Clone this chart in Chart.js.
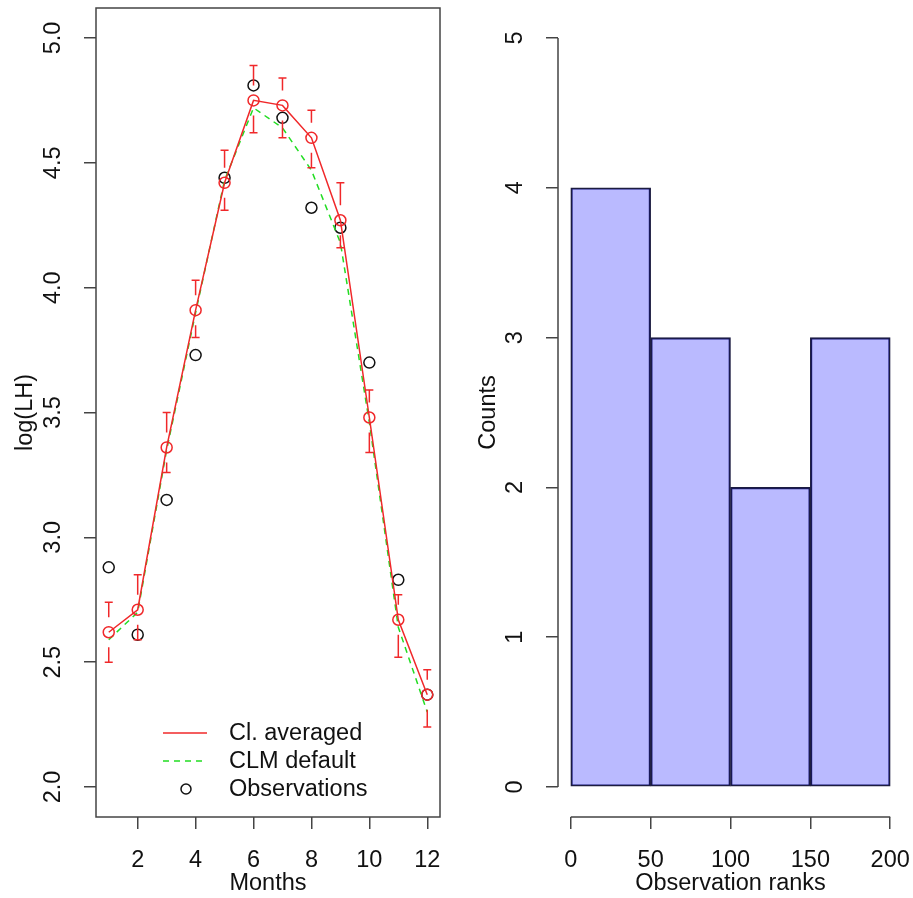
<!DOCTYPE html>
<html>
<head>
<meta charset="utf-8">
<script src="https://cdn.jsdelivr.net/npm/chart.js@4.4.0/dist/chart.umd.min.js"></script>
<style>
    body { margin: 0; background: #fff; }
    #wrap { position: relative; width: 913px; height: 898px; }
    canvas { position: absolute; top: 0; }
</style>
</head>
<body>
<div id="wrap">
    <canvas id="lhChart" width="460" height="898" style="left:0"></canvas>
    <canvas id="rankChart" width="453" height="898" style="left:460px"></canvas>
</div>
<script>
// left panel: monthly log(LH)
const months = [1, 2, 3, 4, 5, 6, 7, 8, 9, 10, 11, 12];
const clAveraged = [2.62, 2.71, 3.36, 3.91, 4.42, 4.75, 4.73, 4.60, 4.27, 3.48, 2.67, 2.37];
const ciUpper = [2.74, 2.85, 3.50, 4.03, 4.55, 4.89, 4.84, 4.71, 4.42, 3.59, 2.77, 2.47];
const ciLower = [2.50, 2.59, 3.26, 3.80, 4.31, 4.62, 4.60, 4.48, 4.16, 3.34, 2.52, 2.24];
const clmDefault = [2.59, 2.70, 3.35, 3.90, 4.43, 4.72, 4.64, 4.47, 4.18, 3.46, 2.64, 2.30];
const observations = [2.88, 2.61, 3.15, 3.73, 4.44, 4.81, 4.68, 4.32, 4.24, 3.70, 2.83, 2.37];
const monthTicks = [2, 4, 6, 8, 10, 12];
const lhTicks = [2.0, 2.5, 3.0, 3.5, 4.0, 4.5, 5.0];

// right panel: rank histogram
const rankEdges = [0, 50, 100, 150, 200];
const rankCounts = [4, 3, 2, 3];
const rankTicks = [0, 50, 100, 150, 200];
const countTicks = [0, 1, 2, 3, 4, 5];

const FONT = '"Liberation Sans", Arial, sans-serif';
const FSIZE = 23.5;
Chart.defaults.font.family = FONT;
Chart.defaults.font.size = FSIZE;
Chart.defaults.color = '#111';

const RED = '#f0282a';
const GREEN = '#22dd22';
const AXIS = '#444';

function xy(xs, ys) {
    return xs.map((x, i) => ({ x: x, y: ys[i] }));
}

// fixed axis size, no extra room for overflowing labels
function fixHeight(h) {
    return s => { s.height = h; s.paddingLeft = 0; s.paddingRight = 0; };
}
function fixWidth(w) {
    return s => { s.width = w; s.paddingTop = 0; s.paddingBottom = 0; };
}

// R style rotated y tick labels
const rotatedYLabels = {
    id: 'rotatedYLabels',
    afterDraw(chart, args, opts) {
        const s = chart.scales.y, ctx = chart.ctx;
        ctx.save();
        ctx.font = FSIZE + 'px ' + FONT;
        ctx.fillStyle = '#111';
        ctx.textAlign = 'center';
        ctx.textBaseline = 'middle';
        s.ticks.forEach(t => {
            ctx.save();
            ctx.translate(opts.x, s.getPixelForValue(t.value));
            ctx.rotate(-Math.PI / 2);
            ctx.fillText(t.value.toFixed(opts.decimals), 0, 0);
            ctx.restore();
        });
        ctx.restore();
    }
};

const plotBox = {
    id: 'plotBox',
    afterDraw(chart) {
        const a = chart.chartArea, ctx = chart.ctx;
        ctx.save();
        ctx.strokeStyle = AXIS;
        ctx.lineWidth = 1.5;
        ctx.strokeRect(a.left, a.top, a.right - a.left, a.bottom - a.top);
        ctx.restore();
    }
};

// plotCI style bars, with a gap around the point
const errorBars = {
    id: 'errorBars',
    afterDatasetsDraw(chart) {
        const xs = chart.scales.x, ys = chart.scales.y, ctx = chart.ctx;
        const gap = 15, cap = 4;
        ctx.save();
        ctx.strokeStyle = RED;
        ctx.lineWidth = 1.5;
        months.forEach((m, i) => {
            const x = xs.getPixelForValue(m);
            const yc = ys.getPixelForValue(clAveraged[i]);
            const yu = ys.getPixelForValue(ciUpper[i]);
            const yl = ys.getPixelForValue(ciLower[i]);
            ctx.beginPath();
            if (yc - gap > yu) { ctx.moveTo(x, yc - gap); ctx.lineTo(x, yu); }
            ctx.moveTo(x - cap, yu); ctx.lineTo(x + cap, yu);
            if (yc + gap < yl) { ctx.moveTo(x, yc + gap); ctx.lineTo(x, yl); }
            ctx.moveTo(x - cap, yl); ctx.lineTo(x + cap, yl);
            ctx.stroke();
        });
        ctx.restore();
    }
};

const lhLegend = {
    id: 'lhLegend',
    afterDraw(chart) {
        const ctx = chart.ctx;
        const rows = [733, 761, 789];
        const labels = chart.data.datasets.map(d => d.label);
        ctx.save();
        ctx.lineWidth = 1.5;
        ctx.strokeStyle = RED;
        ctx.beginPath(); ctx.moveTo(163, rows[0]); ctx.lineTo(207, rows[0]); ctx.stroke();
        ctx.strokeStyle = GREEN;
        ctx.setLineDash([6, 5]);
        ctx.beginPath(); ctx.moveTo(163, rows[1]); ctx.lineTo(207, rows[1]); ctx.stroke();
        ctx.setLineDash([]);
        ctx.strokeStyle = '#111';
        ctx.beginPath(); ctx.arc(186, rows[2], 5, 0, Math.PI * 2); ctx.stroke();
        ctx.font = FSIZE + 'px ' + FONT;
        ctx.fillStyle = '#111';
        ctx.textAlign = 'left';
        ctx.textBaseline = 'middle';
        labels.forEach((l, i) => ctx.fillText(l, 229, rows[i] + 1));
        ctx.restore();
    }
};

// R style axis lines that stop at the outer ticks
const rAxisLines = {
    id: 'rAxisLines',
    afterDraw(chart) {
        const xs = chart.scales.x, ys = chart.scales.y, ctx = chart.ctx;
        const a = chart.chartArea;
        ctx.save();
        ctx.strokeStyle = AXIS;
        ctx.lineWidth = 1.5;
        ctx.beginPath();
        ctx.moveTo(xs.getPixelForValue(rankTicks[0]), a.bottom);
        ctx.lineTo(xs.getPixelForValue(rankTicks[rankTicks.length - 1]), a.bottom);
        ctx.moveTo(a.left, ys.getPixelForValue(countTicks[0]));
        ctx.lineTo(a.left, ys.getPixelForValue(countTicks[countTicks.length - 1]));
        ctx.stroke();
        ctx.restore();
    }
};

const tickGrid = { display: true, drawOnChartArea: false, drawTicks: true, tickLength: 12, color: AXIS, lineWidth: 1.5, offset: false };

new Chart(document.getElementById('lhChart'), {
    type: 'line',
    data: {
        datasets: [{
            label: 'Cl. averaged',
            data: xy(months, clAveraged),
            borderColor: RED,
            borderWidth: 1.5,
            pointRadius: 5.5,
            pointBorderWidth: 1.5,
            pointBorderColor: RED,
            pointBackgroundColor: 'rgba(0,0,0,0)'
        }, {
            label: 'CLM default',
            data: xy(months, clmDefault),
            borderColor: GREEN,
            borderWidth: 1.5,
            borderDash: [6, 5],
            pointRadius: 0
        }, {
            label: 'Observations',
            data: xy(months, observations),
            showLine: false,
            pointRadius: 5.5,
            pointBorderWidth: 1.5,
            pointBorderColor: '#111',
            pointBackgroundColor: 'rgba(0,0,0,0)'
        }]
    },
    options: {
        responsive: false,
        animation: false,
        layout: { padding: { top: 8, right: 20, left: 0, bottom: 0 } },
        plugins: {
            legend: { display: false },
            tooltip: { enabled: false },
            rotatedYLabels: { x: 54, decimals: 1 }
        },
        scales: {
            x: {
                type: 'linear', min: 0.56, max: 12.44,
                afterBuildTicks: s => { s.ticks = monthTicks.map(v => ({ value: v })); },
                afterFit: fixHeight(81),
                grid: tickGrid,
                border: { display: false },
                ticks: { padding: 17, maxRotation: 0, autoSkip: false },
                title: { display: true, text: 'Months', padding: { top: 0, bottom: 0 } }
            },
            y: {
                type: 'linear', min: 1.88, max: 5.12,
                afterBuildTicks: s => { s.ticks = lhTicks.map(v => ({ value: v })); },
                afterFit: fixWidth(96),
                grid: tickGrid,
                border: { display: false },
                ticks: { display: false },
                title: { display: true, text: 'log(LH)', padding: { top: 11, bottom: 11 } }
            }
        }
    },
    plugins: [plotBox, errorBars, lhLegend, rotatedYLabels]
});

new Chart(document.getElementById('rankChart'), {
    type: 'bar',
    data: {
        datasets: [{
            label: 'Counts',
            data: rankCounts.map((c, i) => ({ x: (rankEdges[i] + rankEdges[i + 1]) / 2, y: c })),
            backgroundColor: 'rgba(0,0,255,0.27)',
            borderColor: '#1c1c40',
            borderWidth: 1.5,
            borderSkipped: false,
            barPercentage: 1,
            categoryPercentage: 1
        }]
    },
    options: {
        responsive: false,
        animation: false,
        layout: { padding: { top: 8, right: 10, left: 0, bottom: 0 } },
        plugins: {
            legend: { display: false },
            tooltip: { enabled: false },
            rotatedYLabels: { x: 56, decimals: 0 }
        },
        scales: {
            x: {
                type: 'linear', min: -8, max: 208, offset: false,
                afterBuildTicks: s => { s.ticks = rankTicks.map(v => ({ value: v })); },
                afterFit: fixHeight(81),
                grid: tickGrid,
                border: { display: false },
                ticks: { padding: 17, maxRotation: 0, autoSkip: false },
                title: { display: true, text: 'Observation ranks', padding: { top: 0, bottom: 0 } }
            },
            y: {
                type: 'linear', min: -0.2, max: 5.2,
                afterBuildTicks: s => { s.ticks = countTicks.map(v => ({ value: v })); },
                afterFit: fixWidth(98),
                grid: tickGrid,
                border: { display: false },
                ticks: { display: false },
                title: { display: true, text: 'Counts', padding: { top: 14, bottom: 14 } }
            }
        }
    },
    plugins: [rAxisLines, rotatedYLabels]
});
</script>
</body>
</html>
